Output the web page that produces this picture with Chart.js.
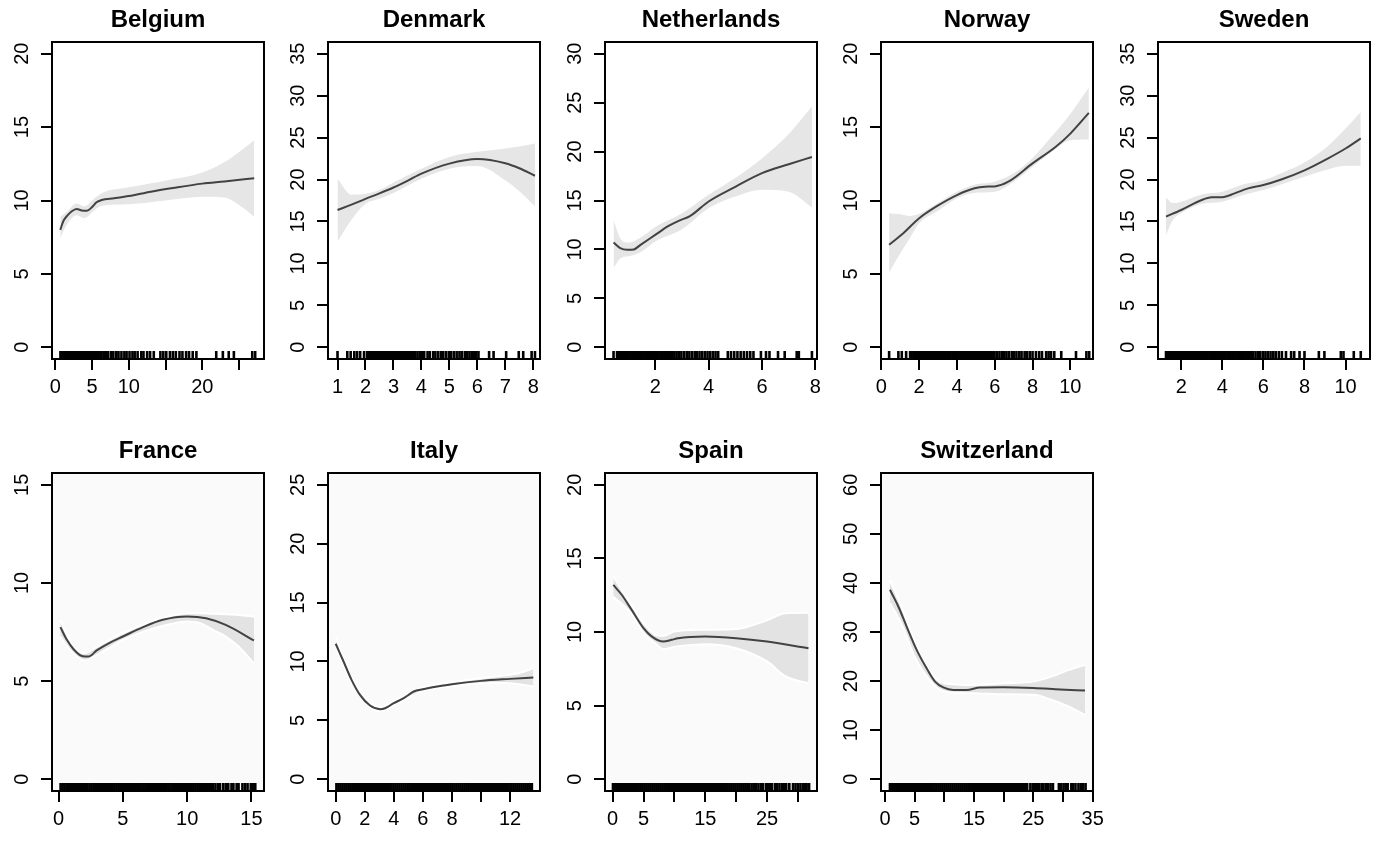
<!DOCTYPE html>
<html>
<head>
<meta charset="utf-8">
<script src="https://cdn.jsdelivr.net/npm/chart.js@4.4.1/dist/chart.umd.min.js"></script>
<style>
  html, body { margin: 0; padding: 0; background: #fff; }
  #wrap { position: relative; width: 1385px; height: 842px; overflow: hidden; }
  #wrap canvas { position: absolute; }
</style>
</head>
<body>
<div id="wrap"></div>
<script>
// ---- Belgium ----
const belFitX = [0.68, 1.1, 1.6, 2.2, 2.9, 3.6, 4.3, 5.0, 5.6, 6.3, 8, 10, 13, 16, 20, 23, 27.07];
const belFitY = [8.0, 8.6, 8.95, 9.25, 9.42, 9.32, 9.3, 9.55, 9.88, 10.03, 10.15, 10.3, 10.6, 10.85, 11.15, 11.3, 11.52];
const belBandX = [0.68, 1.5, 2.9, 4.0, 5.0, 6.3, 10, 15, 20, 23, 25, 27.07];
const belLo = [7.45, 8.3, 9.0, 8.8, 9.2, 9.65, 9.75, 10.0, 10.25, 10.2, 9.7, 8.9];
const belHi = [8.9, 9.2, 9.8, 9.6, 10.0, 10.5, 10.9, 11.35, 11.9, 12.6, 13.3, 14.1];
const belRug = [0.7, 0.9, 1.1, 1.3, 1.5, 1.7, 1.9, 2.1, 2.3, 2.5, 2.7, 2.9, 3.1, 3.3, 3.5, 3.7, 3.9, 4.1, 4.3, 4.5, 4.7, 4.9, 5.1, 5.3, 5.5, 5.7, 5.9, 6.1, 6.3, 6.6, 6.9, 7.2, 7.6, 7.9, 8.3, 8.6, 9.0, 9.4, 9.7, 10.1, 10.5, 10.8, 11.2, 11.7, 12.0, 12.5, 12.9, 13.4, 14.3, 14.7, 15.1, 15.6, 16.0, 16.4, 16.9, 17.3, 17.8, 18.2, 18.7, 19.2, 21.9, 22.8, 23.6, 24.3, 26.8, 27.2];
const belXTicks = [0, 5, 10, 15, 20, 25];
const belXLabels = [0, 5, 10, 20];
const belYTicks = [0, 5, 10, 15, 20];

// ---- Denmark ----
const denFitX = [1.0, 1.5, 2.0, 2.5, 3.0, 3.5, 4.0, 5.0, 6.0, 7.0, 7.5, 8.06];
const denFitY = [16.37, 17.0, 17.7, 18.35, 19.05, 19.85, 20.7, 21.9, 22.45, 21.95, 21.35, 20.45];
const denBandX = [1.0, 1.5, 2.0, 2.5, 3.0, 4.0, 5.0, 6.0, 7.0, 7.5, 8.06];
const denLo = [12.6, 15.2, 17.1, 17.7, 18.4, 20.1, 21.3, 21.6, 19.9, 18.6, 16.8];
const denHi = [20.1, 18.2, 18.3, 18.75, 19.65, 21.3, 22.7, 23.3, 23.7, 23.95, 24.3];
const denRug = [1.0, 1.35, 1.47, 1.6, 1.7, 1.81, 1.95, 2.06, 2.12, 2.18, 2.24, 2.3, 2.36, 2.42, 2.48, 2.54, 2.6, 2.66, 2.72, 2.78, 2.84, 2.9, 2.96, 3.02, 3.08, 3.14, 3.2, 3.26, 3.32, 3.38, 3.44, 3.5, 3.56, 3.62, 3.7, 3.78, 3.86, 3.94, 4.02, 4.1, 4.22, 4.3, 4.42, 4.5, 4.6, 4.7, 4.78, 4.88, 4.98, 5.06, 5.16, 5.26, 5.36, 5.44, 5.55, 5.64, 5.72, 5.8, 5.88, 5.96, 6.04, 6.42, 6.58, 7.03, 7.48, 7.64, 7.94, 8.06];
const denXTicks = [1, 2, 3, 4, 5, 6, 7, 8];
const denXLabels = [1, 2, 3, 4, 5, 6, 7, 8];
const denYTicks = [0, 5, 10, 15, 20, 25, 30, 35];

// ---- Netherlands ----
const netFitX = [0.44, 0.69, 0.95, 1.2, 1.45, 2.0, 2.5, 2.9, 3.3, 4.0, 5.0, 6.0, 7.0, 7.87];
const netFitY = [10.7, 10.13, 9.96, 10.0, 10.47, 11.48, 12.4, 12.95, 13.4, 14.9, 16.4, 17.8, 18.7, 19.45];
const netBandX = [0.44, 0.7, 1.0, 1.5, 2.0, 3.0, 4.0, 5.0, 6.0, 7.0, 7.87];
const netLo = [8.1, 9.1, 9.3, 9.8, 10.8, 12.05, 14.2, 15.4, 16.1, 15.9, 14.3];
const netHi = [13.0, 11.1, 10.7, 11.3, 12.3, 13.7, 15.6, 17.3, 19.3, 21.8, 24.6];
const netRug = [0.44, 0.57, 0.62, 0.69, 0.76, 0.83, 0.9, 0.97, 1.04, 1.11, 1.18, 1.25, 1.32, 1.39, 1.46, 1.53, 1.6, 1.67, 1.74, 1.81, 1.88, 1.95, 2.02, 2.09, 2.16, 2.23, 2.3, 2.37, 2.44, 2.51, 2.58, 2.65, 2.72, 2.8, 2.88, 2.98, 3.08, 3.18, 3.28, 3.38, 3.48, 3.56, 3.66, 3.76, 3.86, 3.96, 4.06, 4.16, 4.26, 4.36, 4.72, 4.84, 4.96, 5.08, 5.2, 5.32, 5.44, 5.56, 5.68, 5.96, 6.15, 6.28, 6.6, 6.85, 7.3, 7.38, 7.87];
const netXTicks = [2, 4, 6, 8];
const netXLabels = [2, 4, 6, 8];
const netYTicks = [0, 5, 10, 15, 20, 25, 30];

// ---- Norway ----
const norFitX = [0.41, 1.16, 2.0, 2.96, 4.0, 4.93, 5.47, 6.0, 6.72, 8.0, 9.23, 10.0, 10.98];
const norFitY = [6.98, 7.77, 8.79, 9.63, 10.37, 10.83, 10.94, 10.96, 11.28, 12.53, 13.66, 14.56, 15.97];
const norBandX = [0.41, 1.0, 1.5, 2.0, 3.0, 4.0, 5.0, 6.0, 7.0, 8.0, 9.0, 10.0, 10.98];
const norLo = [5.1, 6.4, 7.43, 8.45, 9.3, 10.15, 10.53, 10.6, 11.28, 12.3, 13.3, 14.1, 14.15];
const norHi = [9.13, 9.06, 8.95, 9.1, 9.85, 10.6, 11.1, 11.28, 11.85, 12.9, 14.34, 15.9, 17.7];
const norRug = [0.41, 0.9, 1.08, 1.31, 1.52, 1.6, 1.7, 1.79, 1.9, 1.98, 2.08, 2.17, 2.27, 2.36, 2.45, 2.55, 2.64, 2.73, 2.83, 2.92, 3.01, 3.1, 3.2, 3.29, 3.38, 3.48, 3.57, 3.66, 3.76, 3.85, 3.94, 4.03, 4.13, 4.22, 4.31, 4.41, 4.5, 4.59, 4.69, 4.78, 4.87, 4.96, 5.06, 5.15, 5.24, 5.34, 5.43, 5.52, 5.62, 5.71, 5.8, 5.9, 5.99, 6.12, 6.25, 6.38, 6.5, 6.62, 6.75, 6.9, 7.02, 7.15, 7.3, 7.42, 7.58, 7.7, 7.85, 8.0, 8.18, 8.35, 8.5, 8.72, 8.85, 8.98, 9.15, 9.52, 10.3, 10.85, 11.0];
const norXTicks = [0, 2, 4, 6, 8, 10];
const norXLabels = [0, 2, 4, 6, 8, 10];
const norYTicks = [0, 5, 10, 15, 20];

// ---- Sweden ----
const sweFitX = [1.26, 2.0, 3.0, 3.48, 4.0, 4.6, 5.26, 6.0, 6.87, 8.0, 9.13, 10.0, 10.74];
const sweFitY = [15.58, 16.37, 17.56, 17.88, 17.9, 18.35, 18.95, 19.34, 20.0, 21.1, 22.5, 23.7, 24.9];
const sweBandX = [1.26, 1.6, 2.0, 3.0, 4.0, 5.0, 6.0, 7.0, 8.0, 9.0, 10.0, 10.74];
const sweLo = [13.4, 15.2, 16.0, 17.1, 17.36, 18.15, 18.75, 19.54, 20.33, 21.1, 21.64, 21.64];
const sweHi = [17.84, 17.2, 17.36, 18.23, 18.55, 19.4, 19.9, 20.9, 22.04, 23.7, 26.08, 28.06];
const sweRug = [1.26, 1.35, 1.44, 1.52, 1.61, 1.7, 1.79, 1.88, 1.96, 2.05, 2.14, 2.23, 2.32, 2.4, 2.49, 2.58, 2.67, 2.76, 2.84, 2.93, 3.02, 3.11, 3.2, 3.28, 3.37, 3.46, 3.55, 3.64, 3.72, 3.81, 3.9, 3.99, 4.08, 4.16, 4.25, 4.34, 4.43, 4.52, 4.6, 4.69, 4.78, 4.87, 4.96, 5.04, 5.13, 5.22, 5.31, 5.4, 5.5, 5.62, 5.75, 5.85, 5.98, 6.1, 6.22, 6.35, 6.48, 6.6, 6.75, 6.9, 7.1, 7.35, 7.5, 7.76, 8.0, 8.7, 8.97, 9.77, 9.9, 10.4, 10.74];
const sweXTicks = [2, 4, 6, 8, 10];
const sweXLabels = [2, 4, 6, 8, 10];
const sweYTicks = [0, 5, 10, 15, 20, 25, 30, 35];

// ---- France ----
const fraFitX = [0.13, 0.64, 1.16, 1.8, 2.32, 2.96, 4.0, 5.0, 6.57, 8.1, 10.0, 11.47, 13.0, 15.2];
const fraFitY = [7.75, 7.1, 6.62, 6.28, 6.25, 6.56, 6.96, 7.27, 7.75, 8.12, 8.29, 8.2, 7.86, 7.07];
const fraBandX = [0.13, 1.0, 2.0, 3.0, 5.0, 7.0, 9.0, 10.0, 11.0, 12.0, 13.0, 14.0, 15.2];
const fraLo = [7.27, 6.5, 6.05, 6.34, 7.1, 7.61, 7.95, 8.03, 7.95, 7.61, 7.27, 6.76, 5.9];
const fraHi = [8.12, 6.9, 6.42, 6.76, 7.44, 8.0, 8.37, 8.46, 8.46, 8.43, 8.41, 8.37, 8.29];
const fraRug = [0.15, 0.3, 0.44, 0.6, 0.75, 0.9, 1.05, 1.2, 1.34, 1.5, 1.65, 1.8, 1.95, 2.1, 2.24, 2.4, 2.55, 2.7, 2.85, 3.0, 3.15, 3.3, 3.44, 3.6, 3.75, 3.9, 4.05, 4.2, 4.35, 4.5, 4.65, 4.8, 4.95, 5.1, 5.25, 5.4, 5.55, 5.7, 5.85, 6.0, 6.15, 6.3, 6.45, 6.6, 6.75, 6.9, 7.05, 7.2, 7.35, 7.5, 7.65, 7.8, 7.95, 8.1, 8.25, 8.4, 8.55, 8.7, 8.85, 9.0, 9.15, 9.3, 9.45, 9.6, 9.75, 9.9, 10.05, 10.2, 10.35, 10.5, 10.65, 10.8, 10.95, 11.1, 11.25, 11.4, 11.55, 11.7, 11.85, 12.0, 12.2, 12.4, 12.55, 12.8, 13.0, 13.2, 13.45, 13.6, 13.85, 14.0, 14.3, 14.5, 14.7, 14.95, 15.1, 15.3];
const fraXTicks = [0, 5, 10, 15];
const fraXLabels = [0, 5, 10, 15];
const fraYTicks = [0, 5, 10, 15];

// ---- Italy ----
const itaFitX = [0, 0.51, 1.09, 1.67, 2.36, 3.06, 3.4, 4.0, 4.68, 5.37, 6.0, 6.99, 8.0, 10.0, 12.0, 13.6];
const itaFitY = [11.5, 10.08, 8.44, 7.16, 6.26, 5.95, 6.03, 6.46, 6.88, 7.45, 7.64, 7.87, 8.07, 8.35, 8.52, 8.64];
const itaBandX = [0, 0.5, 1.1, 2.4, 3.1, 4.0, 6.0, 8.0, 10.0, 11.0, 12.0, 13.0, 13.6];
const itaLo = [11.1, 9.8, 8.22, 6.08, 5.78, 6.28, 7.48, 7.9, 8.14, 8.2, 8.15, 8.0, 7.87];
const itaHi = [12.1, 10.35, 8.65, 6.45, 6.13, 6.64, 7.8, 8.25, 8.58, 8.72, 8.86, 9.15, 9.43];
const itaRug = [0.05, 0.19, 0.33, 0.47, 0.61, 0.75, 0.89, 1.03, 1.17, 1.31, 1.45, 1.59, 1.73, 1.87, 2.01, 2.15, 2.29, 2.43, 2.57, 2.71, 2.85, 2.99, 3.13, 3.27, 3.41, 3.55, 3.69, 3.83, 3.97, 4.11, 4.25, 4.39, 4.53, 4.67, 4.81, 4.95, 5.09, 5.23, 5.37, 5.51, 5.65, 5.79, 5.93, 6.07, 6.21, 6.35, 6.49, 6.63, 6.77, 6.91, 7.05, 7.19, 7.33, 7.47, 7.61, 7.75, 7.89, 8.03, 8.17, 8.31, 8.45, 8.59, 8.73, 8.87, 9.01, 9.15, 9.29, 9.43, 9.57, 9.71, 9.85, 9.99, 10.13, 10.27, 10.41, 10.55, 10.69, 10.83, 10.97, 11.11, 11.25, 11.39, 11.53, 11.67, 11.81, 11.95, 12.09, 12.23, 12.37, 12.51, 12.65, 12.79, 12.93, 13.07, 13.21, 13.35, 13.5];
const itaXTicks = [0, 2, 4, 6, 8, 10, 12];
const itaXLabels = [0, 2, 4, 6, 8, 12];
const itaYTicks = [0, 5, 10, 15, 20, 25];

// ---- Spain ----
const spaFitX = [0.1, 1.46, 3.08, 5.0, 6.3, 8.2, 9.57, 10.6, 15, 20, 25, 31.7];
const spaFitY = [13.2, 12.53, 11.5, 10.26, 9.7, 9.35, 9.47, 9.58, 9.69, 9.58, 9.35, 8.9];
const spaBandX = [0.1, 3, 5, 7, 8.2, 10, 15, 20, 25, 28, 31.7];
const spaLo = [12.4, 11.28, 9.92, 9.2, 8.83, 9.0, 9.17, 8.9, 8.0, 6.98, 6.52];
const spaHi = [13.77, 11.85, 10.6, 9.8, 9.74, 10.03, 10.15, 10.2, 10.8, 11.28, 11.3];
const spaRug = [0.05, 0.37, 0.69, 1.01, 1.33, 1.65, 1.97, 2.29, 2.61, 2.93, 3.25, 3.57, 3.89, 4.21, 4.53, 4.85, 5.17, 5.49, 5.81, 6.13, 6.45, 6.77, 7.09, 7.41, 7.73, 8.05, 8.37, 8.69, 9.01, 9.33, 9.65, 9.97, 10.29, 10.61, 10.93, 11.25, 11.57, 11.89, 12.21, 12.53, 12.85, 13.17, 13.49, 13.81, 14.13, 14.45, 14.77, 15.09, 15.41, 15.73, 16.05, 16.37, 16.69, 17.01, 17.33, 17.65, 17.97, 18.29, 18.61, 18.93, 19.25, 19.57, 19.89, 20.21, 20.53, 20.85, 21.17, 21.49, 21.81, 22.13, 22.5, 22.9, 23.2, 23.6, 24.0, 24.3, 24.8, 25.1, 25.5, 25.8, 26.3, 26.6, 27.0, 27.4, 27.7, 28.1, 28.6, 29.2, 29.6, 30.0, 30.4, 30.8, 31.1, 31.4, 31.8];
const spaXTicks = [0, 5, 10, 15, 20, 25, 30];
const spaXLabels = [0, 5, 15, 25];
const spaYTicks = [0, 5, 10, 15, 20];

// ---- Switzerland ----
const swiFitX = [0.84, 2.25, 3.65, 5.34, 7.02, 8.43, 9.83, 11.5, 13.76, 16, 19.94, 25, 29.5, 33.7];
const swiFitY = [38.6, 35.2, 31.1, 26.36, 22.6, 19.9, 18.7, 18.2, 18.2, 18.7, 18.75, 18.6, 18.3, 18.07];
const swiBandX = [0.84, 3, 5, 8, 10, 15, 20, 25, 28, 31, 33.7];
const swiLo = [35.9, 31.1, 25.0, 19.56, 17.87, 17.5, 17.3, 17.2, 16.2, 14.8, 13.1];
const swiHi = [40.6, 34.5, 28.0, 21.26, 19.56, 19.2, 19.56, 19.9, 20.9, 22.3, 23.3];
const swiRug = [0.84, 1.18, 1.52, 1.86, 2.2, 2.54, 2.88, 3.22, 3.56, 3.9, 4.24, 4.58, 4.92, 5.26, 5.6, 5.94, 6.28, 6.62, 6.96, 7.3, 7.64, 7.98, 8.32, 8.66, 9.0, 9.34, 9.68, 10.02, 10.36, 10.7, 11.04, 11.38, 11.72, 12.06, 12.4, 12.74, 13.08, 13.42, 13.76, 14.1, 14.44, 14.78, 15.12, 15.46, 15.8, 16.14, 16.48, 16.82, 17.16, 17.5, 17.84, 18.18, 18.52, 18.86, 19.2, 19.54, 19.88, 20.22, 20.56, 20.9, 21.24, 21.58, 21.92, 22.26, 22.6, 22.94, 23.28, 23.62, 23.96, 24.5, 24.9, 25.3, 25.6, 26.0, 26.4, 26.7, 27.1, 27.5, 27.9, 28.3, 29.3, 29.7, 30.1, 30.5, 30.8, 31.4, 31.7, 32.1, 32.6, 33.0, 33.4, 33.8];
const swiXTicks = [0, 5, 10, 15, 20, 25, 30, 35];
const swiXLabels = [0, 5, 15, 25, 35];
const swiYTicks = [0, 10, 20, 30, 40, 50, 60];

// panel table built from the arrays above
const panels = [
  { name: 'Belgium', row: 0, col: 0, xMin: -0.45, xMax: 28.4, fitX: belFitX, fitY: belFitY, bandX: belBandX, lo: belLo, hi: belHi, rug: belRug, xTicks: belXTicks, xLabels: belXLabels, yTicks: belYTicks },
  { name: 'Denmark', row: 0, col: 1, xMin: 0.66, xMax: 8.24, fitX: denFitX, fitY: denFitY, bandX: denBandX, lo: denLo, hi: denHi, rug: denRug, xTicks: denXTicks, xLabels: denXLabels, yTicks: denYTicks },
  { name: 'Netherlands', row: 0, col: 2, xMin: 0.12, xMax: 8.06, fitX: netFitX, fitY: netFitY, bandX: netBandX, lo: netLo, hi: netHi, rug: netRug, xTicks: netXTicks, xLabels: netXLabels, yTicks: netYTicks },
  { name: 'Norway', row: 0, col: 3, xMin: -0.02, xMax: 11.2, fitX: norFitX, fitY: norFitY, bandX: norBandX, lo: norLo, hi: norHi, rug: norRug, xTicks: norXTicks, xLabels: norXLabels, yTicks: norYTicks },
  { name: 'Sweden', row: 0, col: 4, xMin: 0.87, xMax: 11.19, fitX: sweFitX, fitY: sweFitY, bandX: sweBandX, lo: sweLo, hi: sweHi, rug: sweRug, xTicks: sweXTicks, xLabels: sweXLabels, yTicks: sweYTicks },
  { name: 'France', row: 1, col: 0, xMin: -0.52, xMax: 15.98, fitX: fraFitX, fitY: fraFitY, bandX: fraBandX, lo: fraLo, hi: fraHi, rug: fraRug, xTicks: fraXTicks, xLabels: fraXLabels, yTicks: fraYTicks },
  { name: 'Italy', row: 1, col: 1, xMin: -0.53, xMax: 14.06, fitX: itaFitX, fitY: itaFitY, bandX: itaBandX, lo: itaLo, hi: itaHi, rug: itaRug, xTicks: itaXTicks, xLabels: itaXLabels, yTicks: itaYTicks },
  { name: 'Spain', row: 1, col: 2, xMin: -1.24, xMax: 33.08, fitX: spaFitX, fitY: spaFitY, bandX: spaBandX, lo: spaLo, hi: spaHi, rug: spaRug, xTicks: spaXTicks, xLabels: spaXLabels, yTicks: spaYTicks },
  { name: 'Switzerland', row: 1, col: 3, xMin: -0.67, xMax: 35.05, fitX: swiFitX, fitY: swiFitY, bandX: swiBandX, lo: swiLo, hi: swiHi, rug: swiRug, xTicks: swiXTicks, xLabels: swiXLabels, yTicks: swiYTicks }
];

const FONT = "'Liberation Sans', Arial, Helvetica, sans-serif";
const colLeft = [52, 328, 605, 881, 1158];   // left edge of each plot box
const rowTop = [0, 431];                       // top of each canvas row
const boxW = 212, yAxisW = 52, xAxisH = 50, padRight = 26;
const rowBoxH = [317, 318];

// plot box frame + optional panel background
const boxPlugin = {
  id: 'box',
  beforeDraw(chart, args, opts) {
    if (!opts.bg) return;
    const a = chart.chartArea, c = chart.ctx;
    c.save();
    c.fillStyle = opts.bg;
    c.fillRect(a.left, a.top, a.right - a.left, a.bottom - a.top);
    c.restore();
  },
  afterDraw(chart) {
    const a = chart.chartArea, c = chart.ctx;
    c.save();
    c.strokeStyle = '#000';
    c.lineWidth = 2;
    c.strokeRect(a.left, a.top, a.right - a.left, a.bottom - a.top);
    c.restore();
  }
};

const pts = (xs, ys) => xs.map((x, i) => ({ x: x, y: ys[i] }));

const wrap = document.getElementById('wrap');

panels.forEach(p => {
  const cv = document.createElement('canvas');
  const w = yAxisW + boxW + padRight;
  const h = 42 + rowBoxH[p.row] + xAxisH;
  cv.width = w; cv.height = h;
  cv.style.left = (colLeft[p.col] - yAxisW) + 'px';
  cv.style.top = rowTop[p.row] + 'px';
  cv.style.width = w + 'px'; cv.style.height = h + 'px';
  wrap.appendChild(cv);

  const yTop = p.yTicks[p.yTicks.length - 1];
  const yMin = -0.04 * yTop, yMax = 1.04 * yTop;
  const bottomRow = p.row === 1;
  const bandFill = bottomRow ? '#e3e3e3' : '#e6e6e6';
  const edge = bottomRow ? '#ffffff' : 'rgba(0,0,0,0)';

  new Chart(cv.getContext('2d'), {
    type: 'line',
    data: {
      datasets: [
        {
          label: 'fit', data: pts(p.fitX, p.fitY),
          borderColor: '#424242', borderWidth: 2, pointRadius: 0, fill: false,
          cubicInterpolationMode: 'monotone'
        },
        {
          type: 'scatter', label: 'rug', data: p.rug.map(v => ({ x: v, y: yMin })),
          showLine: false, pointStyle: 'line', pointRotation: 90, rotation: 90,
          pointRadius: 8, radius: 8,
          pointBorderWidth: 2.6, borderWidth: 2.6,
          pointBorderColor: '#000', borderColor: '#000', pointBackgroundColor: '#000',
          clip: 0
        },
        {
          label: 'lower', data: pts(p.bandX, p.lo),
          borderColor: edge, borderWidth: bottomRow ? 2 : 0, pointRadius: 0, fill: false,
          cubicInterpolationMode: 'monotone'
        },
        {
          label: 'upper', data: pts(p.bandX, p.hi),
          borderColor: edge, borderWidth: bottomRow ? 2 : 0, pointRadius: 0,
          fill: '-1', backgroundColor: bandFill,
          cubicInterpolationMode: 'monotone'
        }
      ]
    },
    options: {
      responsive: false,
      animation: false,
      events: [],
      layout: { padding: { left: 0, right: padRight, top: 0, bottom: 0 } },
      scales: {
        x: {
          type: 'linear', min: p.xMin, max: p.xMax,
          afterBuildTicks: s => { s.ticks = p.xTicks.map(v => ({ value: v })); },
          afterFit: s => { s.height = xAxisH; },
          ticks: {
            autoSkip: false, minRotation: 0, maxRotation: 0, padding: 5,
            color: '#000', font: { family: FONT, size: 20 },
            callback: v => p.xLabels.includes(v) ? String(v) : ''
          },
          grid: { drawOnChartArea: false, drawTicks: true, tickLength: 11, lineWidth: 2, color: '#000' },
          border: { display: false }
        },
        y: {
          type: 'linear', min: yMin, max: yMax,
          afterBuildTicks: s => { s.ticks = p.yTicks.map(v => ({ value: v })); },
          afterFit: s => { s.width = yAxisW; },
          ticks: {
            autoSkip: false, minRotation: 90, maxRotation: 90, crossAlign: 'center', padding: 7,
            color: '#000', font: { family: FONT, size: 20 },
            callback: v => String(v)
          },
          grid: { drawOnChartArea: false, drawTicks: true, tickLength: 11, lineWidth: 2, color: '#000' },
          border: { display: false }
        }
      },
      plugins: {
        legend: { display: false },
        tooltip: { enabled: false },
        title: {
          display: true, text: p.name, fullSize: false, color: '#000',
          font: { family: FONT, size: 24, weight: 'bold', lineHeight: '28px' },
          padding: { top: 6, bottom: 8 }
        },
        box: { bg: bottomRow ? '#fafafa' : null }
      }
    },
    plugins: [boxPlugin]
  });
});
</script>
</body>
</html>
